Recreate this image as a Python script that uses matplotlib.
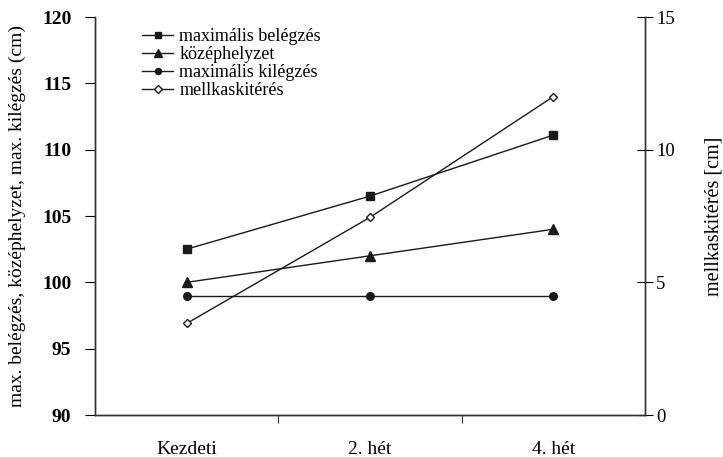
import matplotlib.pyplot as plt

plt.rcParams['font.family'] = ['Liberation Serif', 'DejaVu Serif']

# Data
categories = ['Kezdeti', '2. hét', '4. hét']
max_belegzes = [102.5, 106.5, 111.1]
kozephelyzet = [100.0, 102.0, 104.0]
max_kilegzes = [99.0, 99.0, 99.0]
mellkaskiteres = [3.45, 7.45, 12.0]

fig = plt.figure(figsize=(7.23, 4.57), dpi=100)
ax = fig.add_axes([0.1314, 0.0919, 0.7607, 0.8709])
ax2 = ax.twinx()

x = list(range(len(categories)))
col = '#1a1a1a'
h1, = ax.plot(x, max_belegzes, color=col, lw=1, marker='s', ms=5.5, label='maximális belégzés')
h2, = ax.plot(x, kozephelyzet, color=col, lw=1, marker='^', ms=6.5, label='középhelyzet')
h3, = ax.plot(x, max_kilegzes, color=col, lw=1, marker='o', ms=5.5, label='maximális kilégzés')
h4, = ax2.plot(x, mellkaskiteres, color=col, lw=1, marker='D', ms=4.5, mfc='white',
               mec=col, mew=1, label='mellkaskitérés')

ax.set_xlim(-0.5, 2.5)
ax.set_ylim(90, 120)
ax.set_yticks(range(90, 121, 5))
ax2.set_ylim(0, 15)
ax2.set_yticks([0, 5, 10, 15])

# category ticks between groups, labels centred
ax.set_xticks([0.5, 1.5])
ax.set_xticklabels([])
ax.set_xticks(x, minor=True)
ax.set_xticklabels(categories, minor=True, fontsize=14)
ax.tick_params(axis='x', which='minor', length=0, pad=19)
ax.tick_params(axis='x', which='major', length=6, direction='out', color='#333333')

ax.tick_params(axis='y', length=7, direction='out', labelsize=14, pad=10)
for lab in ax.get_yticklabels():
    lab.set_fontweight('bold')
ax2.tick_params(axis='y', length=12, direction='inout', labelsize=13.5, pad=2)

for a in (ax, ax2):
    a.spines['top'].set_visible(False)
    for s in ('left', 'right', 'bottom'):
        a.spines[s].set_color('#333333')
        a.spines[s].set_linewidth(1)

ax.set_ylabel('max. belégzés, középhelyzet, max. kilégzés (cm)', fontsize=14)
ax.yaxis.set_label_coords(-0.125, 0.5)
ax2.set_ylabel('mellkaskitérés [cm]', fontsize=14.5, rotation=90)
ax2.yaxis.set_label_coords(1.108, 0.5)

ax.legend(handles=[h1, h2, h3, h4], loc='upper left', bbox_to_anchor=(0.073, 0.99),
          frameon=False, fontsize=13, handlelength=1.7, handletextpad=0.35,
          labelspacing=0.05, borderaxespad=0.0, markerscale=0.8)

fig.savefig('out.png', dpi=100)
